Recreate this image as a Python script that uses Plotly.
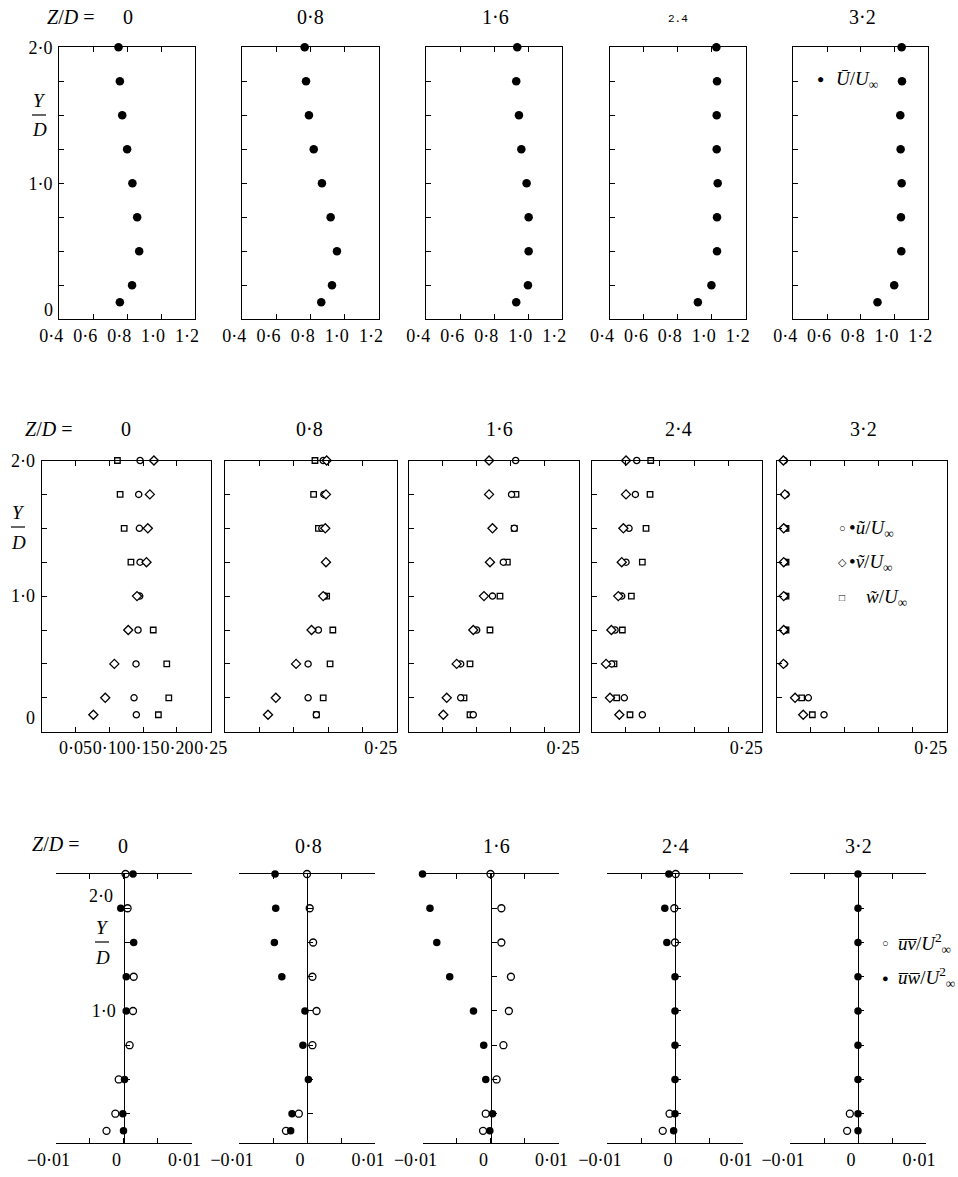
import plotly.graph_objects as go

# ---------------- data ----------------
Y_LEVELS = [2.0, 1.75, 1.5, 1.25, 1.0, 0.75, 0.5, 0.25, 0.125]
ZD_LABELS = ["0", "0·8", "1·6", "2·4", "3·2"]

# Row 1: mean velocity U/U_inf
U_Z00 = [0.749, 0.757, 0.771, 0.800, 0.831, 0.859, 0.871, 0.829, 0.757]
U_Z08 = [0.765, 0.773, 0.790, 0.818, 0.866, 0.917, 0.954, 0.925, 0.862]
U_Z16 = [0.935, 0.929, 0.945, 0.959, 0.990, 1.002, 1.002, 0.998, 0.929]
U_Z24 = [1.027, 1.031, 1.029, 1.029, 1.035, 1.031, 1.031, 0.998, 0.918]
U_Z32 = [1.042, 1.044, 1.034, 1.036, 1.042, 1.038, 1.040, 0.998, 0.899]

# Row 2: turbulence intensities u~, v~, w~ over U_inf
UT_Z00 = [0.1455, 0.1435, 0.1445, 0.1455, 0.145, 0.1425, 0.1395, 0.1366, 0.140]
VT_Z00 = [0.166, 0.160, 0.157, 0.155, 0.141, 0.128, 0.1075, 0.094, 0.0764]
WT_Z00 = [0.112, 0.116, 0.122, 0.132, None, 0.165, 0.185, 0.188, 0.1726]

UT_Z08 = [0.143, 0.144, 0.141, None, 0.145, 0.136, 0.121, 0.121, 0.133]
VT_Z08 = [0.148, 0.147, 0.146, 0.147, 0.143, 0.126, 0.1035, 0.074, 0.0626]
WT_Z08 = [0.131, 0.129, 0.136, None, 0.148, 0.157, 0.153, 0.143, 0.133]

UT_Z16 = [0.157, 0.151, 0.155, 0.1389, 0.123, 0.0998, 0.0763, 0.0763, 0.0948]
VT_Z16 = [0.118, 0.118, 0.123, 0.1193, 0.1105, 0.0948, 0.0704, 0.0558, 0.0508]
WT_Z16 = [None, 0.1575, 0.155, 0.1448, 0.134, 0.1193, 0.090, 0.0812, 0.090]

UT_Z24 = [0.066, 0.064, 0.0547, 0.0503, 0.044, 0.0342, 0.0293, 0.0478, 0.0742]
VT_Z24 = [0.0503, 0.0503, 0.0464, 0.044, 0.039, 0.0288, 0.021, 0.0268, 0.0405]
WT_Z24 = [0.0865, 0.0855, 0.0796, 0.0742, 0.0581, 0.0449, 0.0327, 0.0366, 0.0561]

UT_Z32 = [0.0110, 0.0137, 0.0120, 0.0120, 0.0120, 0.0120, 0.0110, 0.0465, 0.0696]
VT_Z32 = [0.0098, 0.0120, 0.0103, 0.0103, 0.0103, 0.0103, 0.0100, 0.0270, 0.0390]
WT_Z32 = [None, None, 0.0137, 0.0137, 0.0137, 0.0137, None, 0.0367, 0.0524]

# Row 3: Reynolds shear stresses uv/U^2 (open) and uw/U^2 (filled)
UV_Z00 = [0.0003, 0.0006, None, 0.0015, 0.0014, 0.0009, -0.0007, -0.0012, -0.0025]
UW_Z00 = [0.0014, -0.0004, 0.0015, 0.0004, 0.0004, None, 0.00015, -0.0001, 0.0]

UV_Z08 = [0.0, 0.0004, 0.0009, 0.0008, 0.0014, 0.0008, None, -0.0012, -0.0031]
UW_Z08 = [-0.0047, -0.0046, -0.0048, -0.0037, -0.0003, -0.0006, 0.0002, -0.0022, -0.0024]

UV_Z16 = [0.0, 0.0016, 0.0016, 0.0030, 0.0027, 0.0019, 0.0009, -0.0007, -0.0011]
UW_Z16 = [-0.0100, -0.0089, -0.0079, -0.0060, -0.0025, -0.0010, -0.0007, 0.0003, -0.0001]

UV_Z24 = [0.0001, -0.0001, 0.0, None, None, None, None, -0.0008, -0.0018]
UW_Z24 = [-0.0009, -0.0015, -0.0012, 0.0, 0.0, 0.0, 0.0, 0.0, -0.0002]

UV_Z32 = [None, None, None, None, None, None, None, -0.0012, -0.0016]
UW_Z32 = [0.0, 0.0, 0.0, 0.0, 0.0, 0.0, 0.0, 0.0, 0.0]

ROW1_TICKS = [0.4, 0.6, 0.8, 1.0, 1.2]
ROW1_TICKTEXT = ["0·4", "0·6", "0·8", "1·0", "1·2"]
ROW2_TICKS_FIRST = [0.05, 0.10, 0.15, 0.20, 0.25]
ROW2_TICKTEXT_FIRST = ["0·05", "0·10", "0·15", "0·20", "0·25"]
ROW2_TICKS_OTHER = [0.25]
ROW2_TICKTEXT_OTHER = ["0·25"]
ROW2_MINOR = [0.05, 0.10, 0.15, 0.20]
ROW3_TICKS = [-0.01, 0.0, 0.01]
ROW3_TICKTEXT = ["−0·01", "0", "0·01"]
ROW3_MINOR = [-0.005, 0.005]
Y_TICKS = [0, 0.25, 0.5, 0.75, 1.0, 1.25, 1.5, 1.75, 2.0]
Y_LABEL_VALS = [1.0, 2.0]
Y_LABEL_TEXT = ["1·0", "2·0"]

# ---------------- layout geometry ----------------
W, H = 958, 1177
FONT = "Liberation Serif"
ROW_X = [
    [(59.3, 195), (242.3, 379), (426.3, 562.3), (610, 745.7), (793.3, 928.3)],
    [(41.7, 210.7), (225, 396.7), (408.7, 579), (591.7, 762.3), (776.7, 946.7)],
    [(55.5, 191.5), (239, 375), (422.5, 558.5), (607, 743), (790, 926)],
]
ROW_Y = [(47.3, 319.3), (460.5, 731.7), (874, 1143.3)]
TICKFONT = dict(family=FONT, size=18, color="black")


def fx(px):
    return px / W


def fy(py):
    return 1 - py / H


row1 = [U_Z00, U_Z08, U_Z16, U_Z24, U_Z32]
row2 = [(UT_Z00, VT_Z00, WT_Z00), (UT_Z08, VT_Z08, WT_Z08), (UT_Z16, VT_Z16, WT_Z16),
        (UT_Z24, VT_Z24, WT_Z24), (UT_Z32, VT_Z32, WT_Z32)]
row3 = [(UV_Z00, UW_Z00), (UV_Z08, UW_Z08), (UV_Z16, UW_Z16), (UV_Z24, UW_Z24), (UV_Z32, UW_Z32)]

fig = go.Figure()
layout = dict(
    width=W, height=H, autosize=False,
    margin=dict(l=0, r=0, t=0, b=0, pad=0, autoexpand=False),
    paper_bgcolor="white", plot_bgcolor="white", showlegend=False,
    font=dict(family=FONT, size=18, color="black"),
)

TICKSTYLE = dict(ticks="inside", ticklen=5, tickwidth=1.2, tickcolor="black")
LINE = dict(showline=True, linecolor="black", linewidth=1.3, showgrid=False, zeroline=False,
            automargin=False, tickfont=TICKFONT, tickangle=0, **TICKSTYLE)


def minor(vals):
    return dict(tickmode="array", tickvals=vals, showgrid=False, **TICKSTYLE)


open_mk = lambda sym, size: dict(symbol=sym, size=size, color="white",
                                 line=dict(color="black", width=1.3))

k = 0
for r in range(3):
    y0, y1 = ROW_Y[r]
    for c in range(5):
        k += 1
        s = "" if k == 1 else str(k)
        x0, x1 = ROW_X[r][c]
        xa = dict(LINE, domain=[fx(x0), fx(x1)], anchor="y" + s, tickmode="array")
        ya = dict(LINE, domain=[fy(y1), fy(y0)], tickmode="array")
        if r < 2:
            if c == 0:
                ya.update(tickvals=Y_LABEL_VALS, ticktext=Y_LABEL_TEXT, ticklabelstandoff=2,
                          minor=minor([v for v in Y_TICKS if v not in Y_LABEL_VALS]))
            else:
                ya.update(tickvals=Y_TICKS, showticklabels=False)
            ya.update(range=[0, 2.0], mirror=True, anchor="x" + s)
        if r == 0:
            xa.update(range=[0.4, 1.2], tickvals=ROW1_TICKS, ticktext=ROW1_TICKTEXT,
                      mirror="ticks", ticklabelshift=-8)
            fig.add_trace(go.Scatter(x=row1[c], y=Y_LEVELS, mode="markers", cliponaxis=False,
                                     marker=dict(symbol="circle", size=8.5, color="black"),
                                     xaxis="x" + s, yaxis="y" + s))
        elif r == 1:
            if c == 0:
                xa.update(tickvals=ROW2_TICKS_FIRST, ticktext=ROW2_TICKTEXT_FIRST)
            else:
                xa.update(tickvals=ROW2_TICKS_OTHER, ticktext=ROW2_TICKTEXT_OTHER,
                          minor=minor(ROW2_MINOR), ticklabelshift=-16)
            xa.update(range=[0, 0.25], mirror="ticks")
            ut, vt, wt = row2[c]
            for vals, sym, sz in ((wt, "square", 5.5), (ut, "circle", 6.2), (vt, "diamond", 7)):
                fig.add_trace(go.Scatter(x=vals, y=Y_LEVELS, mode="markers", cliponaxis=False,
                                         marker=open_mk(sym, sz), xaxis="x" + s, yaxis="y" + s))
        else:
            xa.update(range=[-0.01, 0.01], tickvals=ROW3_TICKS, ticktext=ROW3_TICKTEXT,
                      minor=minor(ROW3_MINOR), mirror="ticks", ticklabelshift=-7)
            ya.update(range=[0.034, 2.0], anchor="free", position=fx((x0 + x1) / 2))
            if c == 0:
                ya.update(tickvals=[1.0], ticktext=["1·0"], ticklabelstandoff=4,
                          minor=minor([v for v in Y_TICKS[1:] if v != 1.0]))
            else:
                ya.update(tickvals=Y_TICKS[1:], showticklabels=False)
            uv, uw = row3[c]
            fig.add_trace(go.Scatter(x=uv, y=Y_LEVELS, mode="markers", cliponaxis=False,
                                     marker=open_mk("circle", 7), xaxis="x" + s, yaxis="y" + s))
            fig.add_trace(go.Scatter(x=uw, y=Y_LEVELS, mode="markers", cliponaxis=False,
                                     marker=dict(symbol="circle", size=7.5, color="black"),
                                     xaxis="x" + s, yaxis="y" + s))
        layout["xaxis" + s] = xa
        layout["yaxis" + s] = ya

annotations = []
shapes = []


def ann(text, x, y, size=20, xanchor="center", family=FONT):
    annotations.append(dict(text=text, x=fx(x), y=fy(y), xref="paper", yref="paper",
                            xanchor=xanchor, yanchor="middle", showarrow=False,
                            font=dict(family=family, size=size, color="black")))


ZD = "<i>Z</i>/<i>D</i> ="
# headers
ann(ZD, 70, 17)
for lab, x in zip(ZD_LABELS, [128, 310, 495, 678, 862]):
    if lab == "2·4":
        ann("2.4", x, 19, size=11, family="Liberation Mono")
    else:
        ann(lab, x, 17)
ann(ZD, 48, 429)
for lab, x in zip(ZD_LABELS, [126, 309, 499, 678, 863]):
    ann(lab, x, 429)
ann(ZD, 55, 844)
for lab, x in zip(ZD_LABELS, [123, 308, 497, 675, 858]):
    ann(lab, x, 846)


def yd(x, y):
    ann("<i>Y</i>", x, y - 15, size=19)
    ann("<i>D</i>", x, y + 15, size=19)
    shapes.append(dict(type="line", xref="paper", yref="paper", x0=fx(x - 7), x1=fx(x + 7),
                       y0=fy(y), y1=fy(y), line=dict(color="black", width=1.2)))


yd(39, 115)
yd(18, 527)
yd(102, 942)
# y-axis zero labels and displaced 2·0 label (as printed in the original)
ann("0", 48, 310, size=18)
ann("0", 30, 718, size=18)
ann("2·0", 101, 896, size=18)

# legends
ann("●", 820, 79, size=12)
ann("<i>Ū</i>/<i>U</i><sub>∞</sub>", 834, 80, size=19, xanchor="left")

ann("○", 842, 528, size=11)
ann("•<i>ũ</i>/<i>U</i><sub>∞</sub>", 847, 529, size=19, xanchor="left")
ann("◇", 842, 562, size=11)
ann("•<i>ṽ</i>/<i>U</i><sub>∞</sub>", 847, 563, size=19, xanchor="left")
ann("□", 842, 597, size=10)
ann("<i>w̃</i>/<i>U</i><sub>∞</sub>", 864, 598, size=19, xanchor="left")

ann("○", 885, 943, size=11)
ann("<i>u\u0305v\u0305</i>/<i>U</i><sup>2</sup><sub>∞</sub>", 896, 943, size=19, xanchor="left")
ann("●", 885, 978, size=11)
ann("<i>u\u0305w\u0305</i>/<i>U</i><sup>2</sup><sub>∞</sub>", 896, 978, size=19, xanchor="left")

layout["annotations"] = annotations
layout["shapes"] = shapes
fig.update_layout(**layout)
fig.write_html("out.html", config={"displayModeBar": False},
               post_script="document.body.style.margin='0px';document.body.style.padding='0px';")
